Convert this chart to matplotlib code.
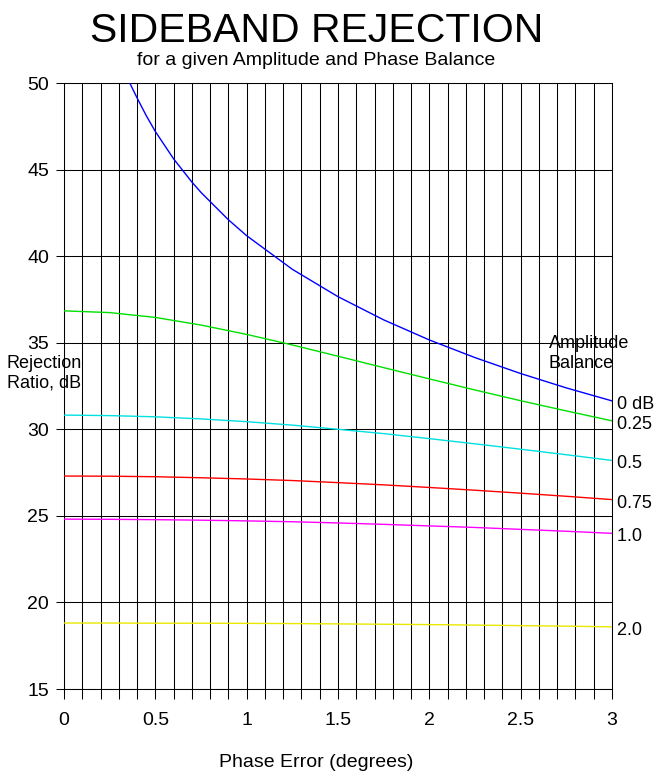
import matplotlib
matplotlib.use("Agg")
import matplotlib.pyplot as plt
import numpy as np

plt.rcParams['font.family'] = ['Liberation Sans', 'DejaVu Sans']

# Phase error (degrees) sample positions and rejection ratio (dB)
phase_0db = [0.36, 0.40, 0.45, 0.50, 0.60, 0.70, 0.75, 0.90, 1.00, 1.25, 1.50, 1.75, 2.00, 2.25, 2.50, 2.75, 3.00]
rej_0db = [50.0, 49.14, 48.12, 47.20, 45.62, 44.28, 43.68, 42.10, 41.18, 39.24, 37.66, 36.32, 35.16, 34.14, 33.22, 32.39, 31.64]

phase = [0.0, 0.25, 0.50, 0.75, 1.00, 1.25, 1.50, 1.75, 2.00, 2.25, 2.50, 2.75, 3.00]
rej_025 = [36.84, 36.74, 36.46, 36.02, 35.48, 34.87, 34.22, 33.56, 32.91, 32.27, 31.65, 31.06, 30.49]
rej_05 = [30.82, 30.79, 30.72, 30.60, 30.44, 30.24, 30.00, 29.75, 29.46, 29.16, 28.85, 28.53, 28.20]
rej_075 = [27.30, 27.29, 27.26, 27.20, 27.13, 27.04, 26.92, 26.79, 26.64, 26.48, 26.31, 26.13, 25.94]
rej_10 = [24.81, 24.80, 24.78, 24.75, 24.71, 24.66, 24.59, 24.51, 24.42, 24.33, 24.22, 24.11, 23.99]
rej_20 = [18.81, 18.81, 18.80, 18.80, 18.79, 18.78, 18.76, 18.74, 18.72, 18.69, 18.66, 18.63, 18.59]

series_labels = ['0 dB', '0.25', '0.5', '0.75', '1.0', '2.0']
series_colors = ['#0000ff', '#00e000', '#00e0e0', '#ff0000', '#ff00ff', '#e8e800']

x_major = [0, 0.5, 1, 1.5, 2, 2.5, 3]
y_ticks = [15, 20, 25, 30, 35, 40, 45, 50]

fig = plt.figure(figsize=(6.55, 7.72), dpi=100)
ax = fig.add_axes([64 / 655, 1 - 689 / 772, (612 - 64) / 655, (689 - 83) / 772])

series = [(phase_0db, rej_0db), (phase, rej_025), (phase, rej_05),
          (phase, rej_075), (phase, rej_10), (phase, rej_20)]
for (xs, ys), lab, col in zip(series, series_labels, series_colors):
    ax.plot(xs, ys, color=col, lw=1.0, zorder=3, clip_on=True)
    ax.text(3.0, ys[-1] - 0.2, ' ' + lab, transform=ax.transData,
            ha='left', va='center', fontsize=13, clip_on=False)

ax.set_xlim(0, 3)
ax.set_ylim(15, 50)

xt = np.round(np.arange(0, 3.0001, 0.1), 2)
ax.set_xticks(xt)
ax.set_xticklabels([('%g' % v) if any(abs(v - m) < 1e-9 for m in x_major) else '' for v in xt])
ax.set_yticks(y_ticks)
ax.set_yticklabels([str(v) for v in y_ticks])
ax.grid(True, color='black', lw=0.75)
ax.set_axisbelow(True)
for s in ax.spines.values():
    s.set_color('black')
    s.set_linewidth(0.75)
ax.tick_params(axis='x', length=7.2, width=0.75, pad=9.5, labelsize=14, color='black')
ax.tick_params(axis='y', length=5.8, width=0.75, pad=5, labelsize=14, color='black')

# texts
fig.text(317 / 655, 1 - 42 / 772, 'SIDEBAND REJECTION', ha='center', va='baseline', fontsize=29.5)
fig.text(316 / 655, 1 - 65 / 772, 'for a given Amplitude and Phase Balance', ha='center', va='baseline', fontsize=14)
fig.text(316 / 655, 1 - 767 / 772, 'Phase Error (degrees)', ha='center', va='baseline', fontsize=14)
fig.text(7 / 655, 1 - 368 / 772, 'Rejection', ha='left', va='baseline', fontsize=13)
fig.text(7 / 655, 1 - 388 / 772, 'Ratio, dB', ha='left', va='baseline', fontsize=13)
fig.text(549 / 655, 1 - 348 / 772, 'Amplitude', ha='left', va='baseline', fontsize=13)
fig.text(549 / 655, 1 - 368 / 772, 'Balance', ha='left', va='baseline', fontsize=13)

fig.savefig('out.png', dpi=100)
